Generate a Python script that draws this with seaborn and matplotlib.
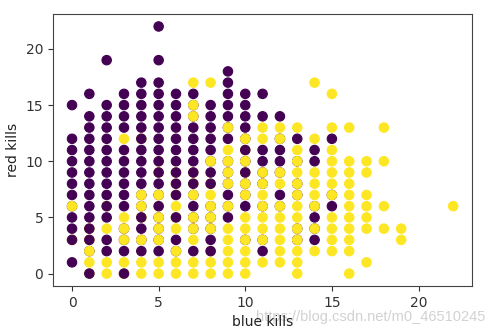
import matplotlib
matplotlib.use("Agg")
import matplotlib.pyplot as plt
import seaborn as sns
import pandas as pd

# Red kills observed for each blue-kills value, split by game outcome.
# Games blue lost, drawn first (underneath).
lost_under = {
    0: [1, 4, 5, 6, 7, 8, 9, 10, 11, 12, 15],
    1: [2, 5, 6, 7, 8, 9, 10, 11, 12, 13, 14, 16],
    2: [2, 3, 5, 7, 8, 9, 10, 11, 12, 13, 14, 15, 19],
    3: [2, 3, 4, 6, 7, 8, 9, 10, 11, 13, 14, 15, 16],
    4: [2, 3, 4, 6, 7, 8, 9, 10, 11, 13, 14, 15, 16, 17],
    5: [2, 3, 4, 5, 7, 8, 11, 12, 13, 14, 15, 16, 17, 19, 22],
    6: [2, 3, 10, 11, 12, 13, 14, 15, 16],
    7: [2, 4, 5, 6, 7, 10, 11, 12, 13, 14, 15, 16],
    8: [3, 4, 5, 6, 9, 10, 11, 12, 13, 14, 15],
    9: [5, 6, 7, 8, 9, 10, 12, 13, 14, 15, 16, 17, 18],
    10: [3, 6, 7, 8, 10, 12, 13, 14, 15, 16],
    11: [2, 3, 6, 8, 9, 10, 11, 14, 16],
    12: [6, 7, 9, 10, 11, 12, 14],
    13: [3, 4, 7, 8, 10, 12],
    14: [3, 4, 5, 6, 10, 11],
    15: [6, 7, 12],
}
# Games blue won.
won = {
    0: [6, 3],
    1: [0, 1, 2, 3, 4],
    2: [0, 1, 4, 6],
    3: [0, 1, 3, 4, 5, 12],
    4: [0, 1, 3, 5, 6, 7, 12],
    5: [0, 1, 3, 4, 5, 6, 7, 9, 10],
    6: [0, 1, 2, 4, 5, 6, 7, 8, 9],
    7: [0, 1, 3, 4, 5, 7, 8, 9, 14, 15, 17],
    8: [0, 1, 2, 4, 5, 6, 7, 8, 10, 17],
    9: [0, 1, 2, 3, 4, 6, 8, 9, 10, 11, 13],
    10: [0, 1, 2, 3, 4, 5, 7, 8, 9, 10, 11, 12],
    11: [1, 3, 4, 5, 6, 7, 8, 9, 12, 13],
    12: [1, 2, 3, 4, 5, 6, 8, 9, 12, 13],
    13: [0, 1, 2, 3, 4, 5, 6, 7, 8, 9, 10, 11, 13],
    14: [2, 4, 6, 7, 8, 9, 12, 17],
    15: [2, 3, 4, 5, 7, 8, 9, 10, 11, 13, 16],
    16: [0, 2, 3, 4, 5, 6, 7, 8, 9, 10, 13],
    17: [1, 4, 5, 6, 7, 9, 10],
    18: [4, 6, 10, 13],
    19: [3, 4],
    22: [6],
}
# Games blue lost, later in the table (drawn on top).
lost_over = {
    0: [3],
    1: [0, 3, 4],
    2: [6],
    3: [0],
    4: [5, 12],
    5: [6, 9, 10],
    6: [5, 7, 8, 9],
    7: [8, 9],
    8: [2, 8],
    10: [9, 11],
}


def to_frame(groups, outcome):
    rows = [(b, r, outcome) for b, reds in groups.items() for r in reds]
    return pd.DataFrame(rows, columns=["blue kills", "red kills", "blueWins"])


games = pd.concat(
    [to_frame(lost_under, 0), to_frame(won, 1), to_frame(lost_over, 0)],
    ignore_index=True,
)

fig = plt.figure(figsize=(4.95, 3.36), dpi=100)
ax = fig.add_axes([0.107, 0.149, 0.847, 0.809])

sns.scatterplot(
    data=games, x="blue kills", y="red kills", hue="blueWins",
    palette={0: "#440154", 1: "#fde725"}, s=46,
    edgecolor="face", linewidth=0.8, legend=False, ax=ax,
)

ax.set_xlim(-1.1, 23.1)
ax.set_ylim(-1.1, 23.1)
ax.set_xticks([0, 5, 10, 15, 20])
ax.set_yticks([0, 5, 10, 15, 20])
ax.tick_params(labelsize=10, colors="#333333")
for sp in ax.spines.values():
    sp.set_color("#444444")
ax.set_xlabel("blue kills", fontsize=10, color="#222222")
ax.set_ylabel("red kills", fontsize=10, color="#222222")

fig.text(0.98, 0.058, "https://blog.csdn.net/m0_46510245", ha="right",
         va="center", fontsize=10.5, color="#d2d2d2", family="Liberation Sans",
         zorder=-1)

fig.savefig("out.png", dpi=100)
